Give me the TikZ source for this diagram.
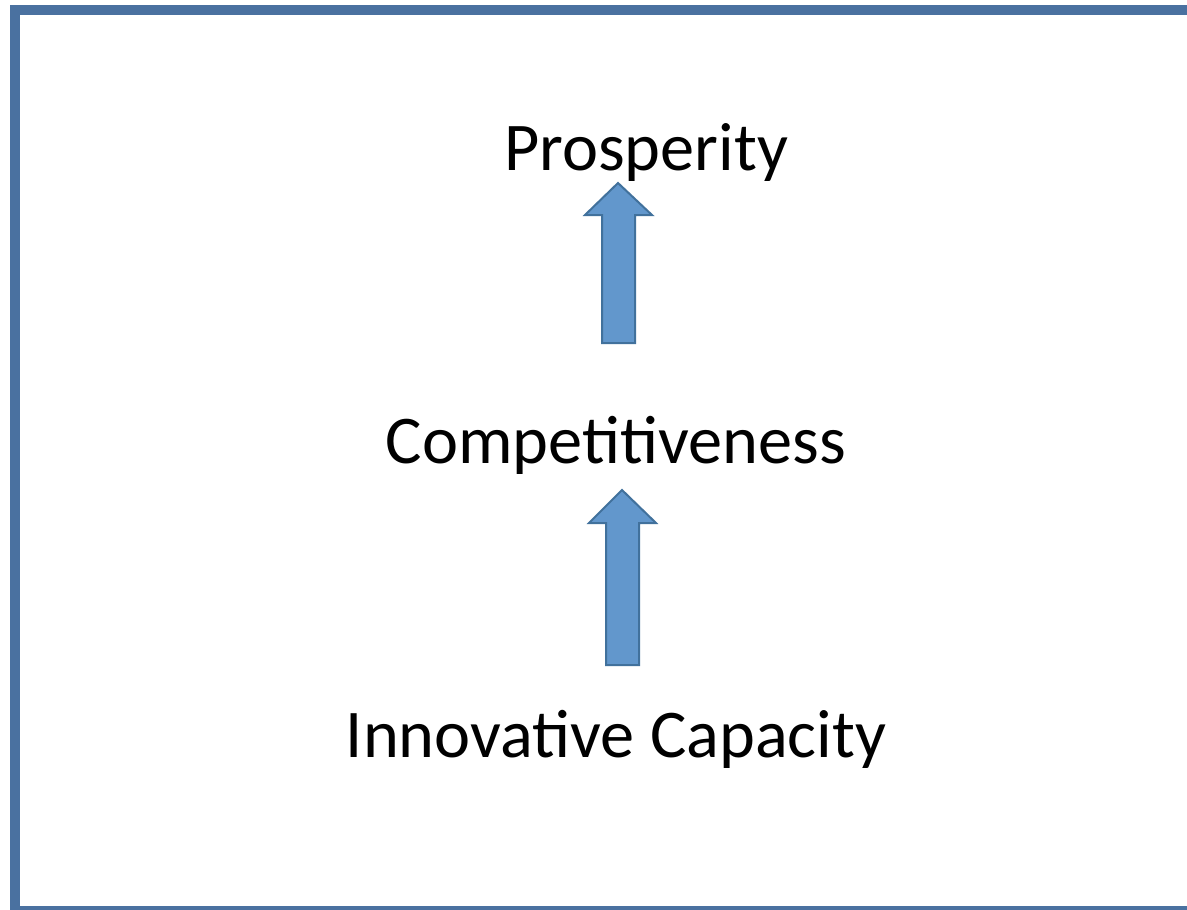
\documentclass[tikz,border=0pt]{standalone}
\usepackage{fontspec}
\setmainfont{Carlito}
\definecolor{framec}{HTML}{4A71A0}
\definecolor{arrfill}{HTML}{6297CC}
\definecolor{arrline}{HTML}{41719C}
\tikzset{
  lbl/.style={anchor=base, inner sep=0pt, font=\fontsize{68.3}{82}\selectfont},
  uparrow/.style={fill=arrfill, draw=arrline, line width=2pt, line join=miter}
}
\begin{document}
\begin{tikzpicture}[x=1pt,y=-1pt]
\useasboundingbox (0,0) rectangle (1187,910);
\fill[white] (0,0) rectangle (1187,910);
\draw[framec, line width=10pt] (1200,9.5) -- (14.5,9.5) -- (14.5,911) -- (1200,911);
\node[lbl] (p) at (646,170) {Prosperity};
\node[lbl] (c) at (616,463) {Competitiveness};
\node[lbl] (i) at (616,757) {Innovative Capacity};
\draw[uparrow] (602,343) -- (602,215) -- (585,215) -- (618,183) -- (652,215) -- (635,215) -- (635,343) -- cycle;
\draw[uparrow] (606,665) -- (606,523) -- (589,523) -- (622,490) -- (656,523) -- (639,523) -- (639,665) -- cycle;
\end{tikzpicture}
\end{document}
